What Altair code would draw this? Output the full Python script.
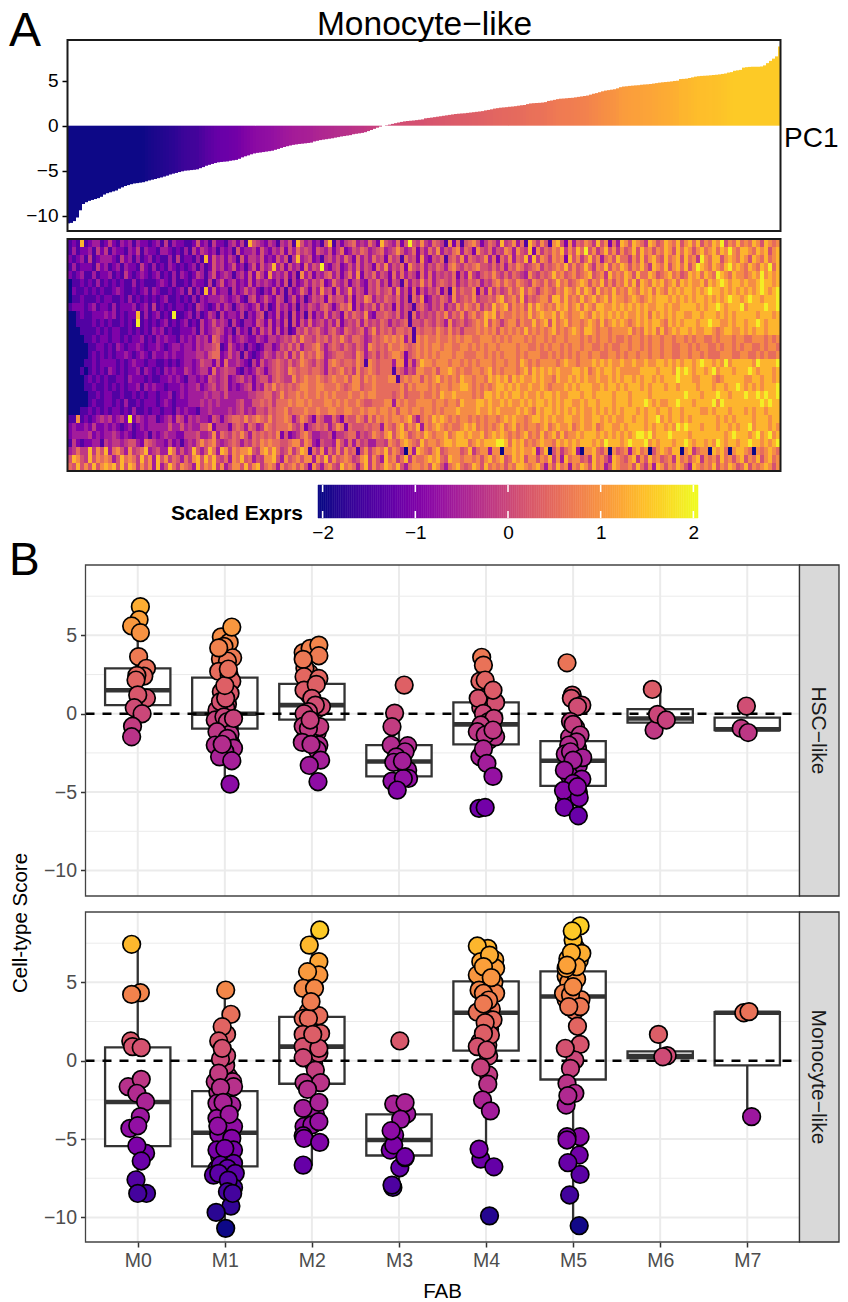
import altair as alt
import pandas as pd
import numpy as np

FONT = "Liberation Sans"
VIEW_W = 773
FABS = ["M0", "M1", "M2", "M3", "M4", "M5", "M6", "M7"]

# PC1 score of the ordered samples (one value per 3 px wide bar)
PC1 = [
-10.85,-10.8,-10.6,-10.2,-9.4,-8.7,-8.5,-8.35,-8.25,-8.15,-8.05,-7.9,-7.65,-7.5,-7.4,-7.3,-7.2,-7.0,-6.85,-6.7,
-6.6,-6.5,-6.42,-6.38,-6.33,-6.28,-6.18,-6.08,-6.0,-5.92,-5.83,-5.75,-5.65,-5.55,-5.42,-5.33,-5.25,-5.15,-5.07,-5.0,
-4.97,-4.93,-4.9,-4.85,-4.72,-4.6,-4.45,-4.35,-4.25,-4.15,-4.07,-4.03,-4.0,-3.97,-3.9,-3.85,-3.8,-3.68,-3.52,-3.4,
-3.3,-3.18,-3.08,-3.02,-2.98,-2.93,-2.88,-2.83,-2.78,-2.68,-2.58,-2.47,-2.37,-2.28,-2.2,-2.13,-2.08,-2.03,-2.0,-1.96,
-1.92,-1.88,-1.75,-1.68,-1.6,-1.55,-1.5,-1.45,-1.4,-1.33,-1.27,-1.2,-1.15,-1.1,-1.05,-0.95,-0.9,-0.85,-0.8,-0.72,
-0.6,-0.48,-0.35,-0.22,-0.1,0.0,0.05,0.12,0.2,0.28,0.35,0.42,0.48,0.52,0.55,0.58,0.62,0.66,0.7,
0.82,0.86,0.9,0.95,1.0,1.05,1.1,1.15,1.2,1.25,1.3,1.33,1.36,1.38,1.42,1.46,1.5,1.54,1.58,1.62,
1.7,1.75,1.82,1.9,1.95,2.0,2.03,2.06,2.1,2.13,2.17,2.22,2.27,2.3,2.4,2.47,2.5,2.52,2.54,2.57,
2.62,2.75,2.8,2.87,2.95,3.0,3.02,3.05,3.08,3.1,3.15,3.2,3.25,3.3,3.35,3.45,3.55,3.62,3.72,3.82,
3.9,3.95,4.0,4.05,4.15,4.28,4.35,4.38,4.42,4.45,4.48,4.5,4.55,4.58,4.6,4.63,4.68,4.73,4.78,4.82,
4.85,4.88,4.92,4.97,5.0,5.18,5.2,5.23,5.3,5.37,5.45,5.5,5.53,5.55,5.57,5.6,5.63,5.66,5.7,5.75,
5.8,5.9,5.95,6.1,6.15,6.2,6.45,6.5,6.53,6.55,6.55,6.55,6.58,6.7,6.95,7.2,7.45,7.7,8.8]
PC1_COLOR_STOPS = [-6.3, -5.3, -4.0, -2.7, -1.2, 0, 1.2, 2.2, 3.9, 5.1, 6.0]
PC1_COLORS = ["#0d0887", "#2d0594", "#6a00a8", "#9512a1", "#b52f8c", "#cc4778",
              "#da5a6a", "#e56b5d", "#f68f44", "#fdb32f", "#fdca26"]

# Heatmap, estimated level 0 (darkest) .. 9 (brightest) per cell
HEAT_LEVELS = [-2.0, -1.45, -1.0, -0.6, -0.2, 0.15, 0.5, 0.9, 1.35, 1.9]
HEAT = [
"1218123312 4213231322 1231413221 1252314221 3424185432 4314351853 4231581424 5634364285 4362595474 3654172615 6752465384 5736186475 1785273657 6485726387 5876487568 7685786857 6879576867 68758767",
"1312231424 1322132413 2213321213 1424323132 3152334253 2435253645 4254352462 3546534563 4575346253 6473546736 5275463547 6375482746 5768475869 5746857475 6858675768 7586875786 7868797688 76878578",
"2123141233 3214231312 3121131412 2131825342 4315244352 3253514834 5231453536 4263536452 6451645273 2546156473 6545736264 7365838476 4767285746 8573675866 4758578658 6785867497 6885787687 58768678",
"1312221423 1231322142 1312132121 2313125342 3523135253 4835253426 3549324523 5363542647 3546275463 5465367546 5675546463 6576456746 5676857568 6476857687 5768648768 5786857987 6876897876 87687968",
"2123113122 3121421232 1231213132 1243135234 3134252642 7343524173 5243563524 6372546354 2636354263 6354546253 7435657546 4654375465 6867567567 8567486768 7586687567 8675687868 7698768776 78797878",
"0112121312 1212113121 1123213112 1322141352 3423252434 3242514235 3546236435 2453254635 2541635474 6356546354 6563546757 6576547657 5686756787 5768575768 6858768786 7868787786 8789878878 77898878",
"0211212121 1232112123 1321121231 4131825233 1423534213 2524142364 2537452634 7354254645 6373526253 5462517465 5726374645 7568576467 6576876868 7586768676 8768786876 8787887878 9887878787 87898789",
"0112111212 2112131212 1212311212 1313233343 2342145235 3254135241 3545264553 6254763546 5463516472 3546537456 5745565785 6758465677 5886867686 7867868776 7876787888 7878787887 8787898878 98878889",
"1222123122 1312223123 1412121221 2143212424 3134323524 1253424143 5435642465 7253546364 5263541564 3546354757 6574658678 5767586876 7687867868 7688778787 8787877887 8778888787 8898788897 88889889",
"0012112223 2312122813 1231219112 3131243142 3324132451 3252415241 5243635426 4654732556 5463516354 5465746574 6756878576 6767686787 7868767787 6878787878 7787868787 8788778878 8878787888 88788878",
"0011112121 2112121912 1212312123 1214235343 1421332542 5242515253 6345353624 5463645465 3545615546 5465374564 5676857646 7757668678 5867867767 8768678787 6787878876 8787888788 9887787887 88987888",
"0001111212 1221121212 1323121122 2314234542 3142314253 5252412546 4564356436 5456357465 6466561656 6576575646 6676767576 7676867676 7867678768 8767767777 8676878686 7878878778 8767887787 87887888",
"0000112122 1221212231 2132322132 3243426532 4234322432 4434546475 5465646575 4665346567 6767361767 6676676767 7667776767 6777676776 7677677767 6767767667 6776767767 7677676776 6767776776 67776767",
"0000011221 2132122321 2232123323 3243445612 5323132124 4235464635 5675356546 5465376565 7667656767 6776776677 6767677677 7767766767 6776767767 7667676677 6776767767 7667767677 6676776767 76676776",
"0000012121 2122321232 1322323223 3344356623 5341421235 4354636475 6576345665 5476356465 6776256767 6767776776 6677676767 7767677766 7676767677 6776677676 7767767767 7667767767 6667776677 66767667",
"0000112122 2212123221 2211212123 3235442526 3343214253 4565464576 5465367656 6576176566 6377263687 7677767767 6767776776 7768767677 7767877677 7878787787 7877877887 8787887898 8787978888 87988889",
"0001012121 3212122313 2121323224 3234426345 4421323542 4565476566 5665365675 6475676566 6165354776 6757787676 6776786767 7767868787 8787778878 6787887877 7778888788 8798987887 8978887888 98788878",
"0000121212 1122132221 2112232321 3323254345 2345342455 3565447567 6676567667 5775767666 7716767757 6786767687 7677687878 6878778787 7687787878 7787787878 8787887878 8898887788 8767888887 78878878",
"0000112112 1212122313 2322122232 3342345345 2323452436 5756565677 6677666765 6775667666 6667576777 6767767788 7676767887 8787787787 6777878788 8778788787 8887878887 8878888788 8788788987 87878889",
"0000011212 2112112121 2212231232 3333434435 3333344556 6457566767 6676767666 7667677666 6567566676 6768778777 7676887878 7887877878 8787788878 8788887888 7888878888 8888988878 8898878889 88989889",
"0000012112 2121311212 2212321222 3334343433 3345335565 6466676776 7666776767 6676556667 7376766777 7677677687 7788787787 8778787887 8787887787 8878887888 7888987877 8898887888 8979888888 88898988",
"0001121212 1221213112 1221221323 2213343333 4345343554 6566756667 6676677667 7667677677 6757767767 7676777877 7787787877 7787876878 8787878787 7878787878 8878788788 7887888877 8788878887 87887888",
"1171212343 4234292432 3312342542 4343325424 5665756765 7566763576 4265336426 5576475767 6776785367 6878767677 6767677678 7877678878 7877887787 7887878778 8788788978 7887878888 8878787888 87888788",
"2322324223 2321231232 3333353353 4335572444 2565365347 6566675462 4565635762 6555656637 6578576837 6787676678 7867676786 7867677678 6787786787 7867887787 8888787887 8798988878 8878878788 97888787",
"2333342323 3432321223 1323433224 4453347365 4657536565 6572523467 5334452445 6635457657 8578756768 7677867887 8778678787 6767867686 7868677878 8878787878 7899897888 9888878888 8888789888 78978978",
"1421223314 3443455326 5433242313 4357567434 5653546576 7665567747 6325443753 6364533554 7657876586 7767887888 6787888998 6878676787 7687878788 8787988878 9888978788 8788987887 8798788788 98878789",
"3464484758 3675374568 3453386353 4853586387 4767785478 6864574687 1647364747 5615746768 5764073876 5785677756 8467737707 7878778368 0574678307 7865707567 3786705787 6880784677 0878607887 60767876",
"5875485767 6358676485 7385746536 4785868546 3768563547 7853756757 7375847567 6457847538 6746847667 8786587767 7675786785 6878577576 8473867756 4867538765 7847586756 7486757847 6758675785 76857867",
"6585758578 7858587475 7383586476 5385768473 5775857846 7637567575 2753675486 7636847568 7685367767 5875367865 6875867675 7688767863 7586737687 5867358766 7586473875 7687538767 6857687568 57678757",
]

# Box statistics per FAB: low whisker, q1, median, q3, high whisker
HSC_LOW = [-1.5, -4.5, -4.3, -4.8, -4.0, -6.5, -1.0, -1.2]
HSC_Q1 = [0.55, -0.95, -0.37, -4.0, -1.95, -4.6, -0.57, -1.04]
HSC_MED = [1.5, 0.0, 0.55, -3.05, -0.68, -3.0, -0.3, -1.0]
HSC_Q3 = [2.9, 2.3, 1.9, -2.0, 0.72, -1.75, 0.3, -0.25]
HSC_HIGH = [6.8, 5.4, 4.3, -0.05, 3.6, 0.6, 1.55, 0.5]
MONO_LOW = [-8.5, -10.7, -6.7, -8.2, -6.75, -10.5, 0.2, -3.6]
MONO_Q1 = [-5.45, -6.75, -1.47, -6.05, 0.64, -1.2, 0.17, -0.3]
MONO_MED = [-2.64, -4.6, 0.9, -5.06, 3.06, 4.1, 0.3, 3.06]
MONO_Q3 = [0.85, -1.94, 2.8, -3.43, 5.06, 5.7, 0.6, 3.1]
MONO_HIGH = [7.4, 4.5, 8.3, -2.7, 7.2, 8.5, 1.7, 3.1]

# Points: (score, horizontal jitter in hundredths of a category step)
HSC_M0 = [(6.83,3),(6.0,1.5),(5.6,-7),(5.17,3),(3.64,1),(2.9,10),(2.4,7),(2.45,-1),(2.15,-2),(1.0,10),(1.2,0),(0.38,-4),(0.0,5),(-0.8,-6),(-1.47,-7)]
HSC_M1 = [(1.4,-4),(0.6,3),(0.1,-6),(-0.9,5),(-1.7,-5),(-1.9,7),(3.1,-2),(4.0,3),(4.9,-4),(4.55,5),(4.3,-1),(3.57,9),(3.5,-5),(3.36,3),(2.7,-7),(2.47,5),(0.23,-9),(0.38,1),(0.77,-5),(-0.4,-11),(-0.2,-1),(-0.5,3),(-1.3,6),(-1.15,-9),(-1.57,3),(-2.0,-11),(-2.2,10),(-2.4,0),(-2.75,-6),(2.08,8),(1.3,6),(0.98,1),(-0.3,10),(-1.95,-3),(1.8,0),(2.85,4),(4.2,-7),(5.53,8),(-3.0,8),(-4.49,6)]
HSC_M2 = [(1.2,-3),(0.3,6),(-0.2,-7),(-1.2,6),(-1.5,-7),(2.6,-3),(3.9,-10),(4.17,-2),(4.38,8),(3.7,8),(2.9,-8),(3.47,-10),(2.36,-9),(2.25,8),(1.5,-9),(1.87,5),(0.98,0),(0.45,11),(0.55,4),(0.13,-4),(0.0,-9),(-0.83,9),(-0.8,-10),(-0.94,-4),(-0.4,-2),(-2.0,8),(-1.83,-11),(-2.3,6),(-1.96,-1),(-2.96,10),(-3.3,-3),(-4.34,7)]
HSC_M3 = [(1.83,6),(0.04,-5),(-0.83,-8),(-2.04,10),(-2.0,-9),(-2.43,7),(-2.75,-3),(-3.1,-6),(-3.6,10),(-4.13,11),(-4.3,-8),(-4.13,5),(-3.02,4),(-4.87,-2)]
HSC_M4 = [(1.2,2),(-0.1,6),(-0.9,-2),(-1.7,3),(0.4,-6),(3.6,-5),(3.1,-3),(2.08,-7),(2.15,-1),(0.98,-9),(0.72,11),(1.5,8),(0.02,-3),(-0.5,3),(-0.3,9),(-0.72,-6),(-1.15,-10),(-1.47,11),(-1.36,-1),(-1.04,8),(-2.74,-7),(-2.25,-3),(-3.17,1),(-4.0,8),(-6.04,-8),(-5.98,-1)]
HSC_M5 = [(-0.9,3),(-1.5,-4),(-2.2,5),(-3.3,6),(-3.9,-5),(-5.0,6),(-5.3,-8),(3.25,-7),(1.19,-1),(0.98,-2),(0.55,10),(0.45,5),(-0.5,-3),(-0.68,0),(-1.36,8),(-1.8,4),(-2.0,-5),(-2.57,-9),(-2.43,-3),(-2.8,11),(-2.96,0),(-3.6,-10),(-4.17,10),(-4.45,0),(-4.9,-11),(-5.36,7),(-4.66,5),(-5.98,-10),(-6.51,6)]
HSC_M6 = [(1.55,-9),(-1.04,-7),(-0.04,-3),(-0.4,7)]
HSC_M7 = [(0.49,-1),(-0.94,-7),(-1.2,1)]
MONO_M0 = [(7.43,-7),(4.34,3),(4.23,-7),(1.26,-8),(0.9,-6),(0.83,4),(-1.66,-11),(-1.19,4),(-2.08,-1),(-2.62,9),(-3.57,3),(-4.32,-9),(-4.15,0),(-5.9,9),(-5.43,-1),(-6.4,4),(-7.6,-2),(-8.47,10),(-8.47,0)]
MONO_M1 = [(-3.2,3),(-3.9,-4),(-4.6,6),(-5.0,-2),(-5.3,4),(-6.1,-6),(-6.2,7),(-6.9,-9),(-7.7,7),(-3.0,-6),(-2.0,-8),(-1.0,4),(-0.3,1),(-4.7,-7),(4.51,1),(2.96,7),(1.68,2),(2.17,-3),(1.26,-7),(0.32,2),(0.1,-5),(0.79,-3),(-1.34,9),(-1.34,-11),(-1.66,10),(-0.8,-7),(-1.72,-5),(-2.72,-9),(-2.83,8),(-3.68,-9),(-4.2,10),(-2.66,-2),(-3.43,5),(-4.17,-8),(-4.96,8),(-5.7,-9),(-5.7,10),(-6.55,10),(-5.6,0),(-6.66,-5),(-6.87,3),(-7.3,-13),(-7.19,12),(-7.19,-7),(-8.1,10),(-7.62,4),(-8.36,3),(-9.28,7),(-8.47,9),(-9.68,-10),(-10.7,1)]
MONO_M2 = [(2.2,-3),(1.2,5),(0.6,-5),(-0.2,2),(3.0,2),(-3.4,4),(8.34,9),(7.38,-3),(6.32,8),(5.47,8),(5.68,-5),(4.62,-10),(4.62,3),(3.13,-4),(2.87,8),(2.7,-10),(2.7,-4),(3.77,-1),(1.74,10),(1.68,-10),(0.9,-10),(0.47,8),(0.79,8),(1.68,1),(0.19,-10),(-0.6,4),(-1.4,-9),(-1.4,10),(-1.83,-5),(-3.04,-10),(-2.66,8),(-4.2,-9),(-4.1,0),(-3.89,8),(-4.79,-10),(-4.96,-9),(-5.21,9),(-6.66,-10)]
MONO_M3 = [(1.26,1),(-2.77,-6),(-3.4,9),(-2.68,7),(-3.74,2),(-4.74,-5),(-5.7,-10),(-5.38,-6),(-4.47,-9),(-6.83,1),(-6.19,7),(-6.13,7),(-8.09,-7),(-7.94,-8)]
MONO_M4 = [(5.0,9),(4.8,-6),(5.6,-5),(3.3,6),(2.9,-3),(2.0,4),(1.2,-7),(1.0,2),(0.3,3),(6.0,8),(7.17,2),(6.43,10),(7.32,-10),(6.32,-6),(5.9,11),(6.74,4),(5.47,-10),(6.0,-3),(4.3,11),(4.5,-8),(5.3,6),(4.3,-3),(3.87,3),(2.6,8),(3.1,-10),(3.62,-3),(1.64,5),(2.43,-1),(1.74,-3),(0.9,-10),(0.68,1),(-0.91,3),(-0.43,-6),(-1.5,2),(-2.5,-4),(-3.2,5),(-6.28,-6),(-5.64,-8),(-6.77,9),(-9.9,4)]
MONO_M5 = [(6.4,7),(6.5,-6),(5.4,-8),(5.0,-5),(5.2,4),(3.9,-8),(3.9,9),(3.2,2),(7.2,3),(8.6,8),(7.7,0),(8.28,-1),(6.85,10),(6.0,4),(6.9,-2),(5.9,-8),(6.1,-7),(4.3,-11),(4.2,-3),(4.72,0),(3.45,8),(3.45,-5),(2.2,5),(1.04,8),(0.04,2),(0.79,-9),(-0.49,-3),(-1.45,-7),(-2.08,2),(-2.83,-8),(-2.23,-6),(-4.85,8),(-4.85,-7),(-5.06,-7),(-6.02,7),(-7.26,8),(-6.51,-6),(-8.57,-4),(-10.53,7)]
MONO_M6 = [(1.68,-2),(0.32,8),(0.25,3)]
MONO_M7 = [(3.06,-4),(3.13,2),(-3.57,5)]

GRID_MAJOR = [-10, -5, 0, 5]
GRID_MINOR = [-7.5, -2.5, 2.5, 7.5]
LEGEND_TICKS = [-2, -1, 0, 1, 2]
LEGEND_LOW, LEGEND_HIGH = -2.05, 2.05

one = pd.DataFrame({"a": [0]})


def label(text, x, y, size, angle=0, align="left", weight="normal", color="black"):
    return alt.Chart(pd.DataFrame({"t": [text]})).mark_text(
        font=FONT, fontSize=size, angle=angle, align=align, baseline="alphabetic",
        fontWeight=weight, color=color
    ).encode(x=alt.value(x), y=alt.value(y), text="t:N")


def frame(x0, x1, h, color, width):
    return alt.Chart(one).mark_rect(fill=None, stroke=color, strokeWidth=width).encode(
        x=alt.value(x0), x2=alt.value(x1), y=alt.value(0), y2=alt.value(h))


def spacer(h):
    return alt.Chart(one).mark_rect(opacity=0).encode(
        x=alt.value(0), x2=alt.value(1), y=alt.value(0), y2=alt.value(1)
    ).properties(width=VIEW_W, height=h)


# ---------- PC1 bars
BAR_H = 191
bars = pd.DataFrame({"k": range(len(PC1)), "v": PC1})
bars["k1"] = bars["k"] + 1
bars["base"] = 0.0
bx = alt.Scale(domain=[0, len(PC1)], range=[0, 714], nice=False, zero=False)
by = alt.Scale(domain=[-11.7, 9.52], nice=False, zero=False)
pc1_layer = alt.Chart(bars).mark_rect().encode(
    x=alt.X("k:Q", scale=bx, axis=None),
    x2="k1:Q",
    y=alt.Y("v:Q", scale=by, title=None, axis=alt.Axis(
        values=GRID_MAJOR, grid=False, domain=False, tickColor="black", tickWidth=1.5, tickSize=5,
        labelFont=FONT, labelFontSize=19, labelColor="black", labelPadding=4)),
    y2="base:Q",
    color=alt.Color("v:Q", scale=alt.Scale(domain=PC1_COLOR_STOPS, range=PC1_COLORS, clamp=True), legend=None),
)
top = alt.layer(
    pc1_layer,
    frame(0.5, 713.5, BAR_H, "#1a1a1a", 2),
    label("Monocyte\u2212like", 357.5, -5, 33.5, align="center"),
    label("PC1", 717, 107, 28),
    label("A", -58, 6, 48),
).properties(width=VIEW_W, height=BAR_H)

# ---------- heatmap
HEAT_H = 232
HEAT_COLS = 178
heat_rows = []
for r, row in enumerate(HEAT):
    cells = row.replace(" ", "")
    cells = cells.ljust(HEAT_COLS, cells[-1])[:HEAT_COLS]
    for c, ch in enumerate(cells):
        heat_rows.append({"c0": c, "c1": c + 1, "r0": r, "r1": r + 1, "v": HEAT_LEVELS[int(ch)]})
heat_df = pd.DataFrame(heat_rows)
heat_layer = alt.Chart(heat_df).mark_rect().encode(
    x=alt.X("c0:Q", scale=alt.Scale(domain=[0, HEAT_COLS], range=[1, 713], nice=False, zero=False), axis=None),
    x2="c1:Q",
    y=alt.Y("r0:Q", scale=alt.Scale(domain=[0, len(HEAT)], range=[0, HEAT_H], nice=False, zero=False), axis=None),
    y2="r1:Q",
    color=alt.Color("v:Q", scale=alt.Scale(scheme="plasma", domain=[-2, 2], clamp=True), legend=None),
)
heat = alt.layer(heat_layer, frame(0.5, 713.5, HEAT_H, "#1a1a1a", 2)).properties(width=VIEW_W, height=HEAT_H)

# ---------- colour bar
LEG_H = 33
steps = np.arange(LEGEND_LOW, LEGEND_HIGH, 0.02)
leg_df = pd.DataFrame({"v": steps, "v1": steps + 0.02})
unit = 380 / 4.1
lx = alt.Scale(domain=[LEGEND_LOW - 251 / unit, LEGEND_LOW + (VIEW_W - 251) / unit],
               range=[0, VIEW_W], nice=False, zero=False)
leg_color = alt.Scale(scheme="plasma", domain=[-2, 2], clamp=True)
leg_ramp = alt.Chart(leg_df).mark_rect(strokeWidth=0.5).encode(
    x=alt.X("v:Q", scale=lx, title=None, axis=alt.Axis(
        values=LEGEND_TICKS, format="d", grid=False, domain=False, ticks=False, labelFont=FONT, labelFontSize=19,
        labelColor="black", labelPadding=5)),
    x2="v1:Q",
    y=alt.value(0), y2=alt.value(LEG_H),
    color=alt.Color("v:Q", scale=leg_color, legend=None),
    stroke=alt.Stroke("v:Q", scale=leg_color, legend=None),
)
tick_df = pd.DataFrame({"v": LEGEND_TICKS})
leg_ticks_top = alt.Chart(tick_df).mark_rule(color="white", strokeWidth=1.5).encode(
    x=alt.X("v:Q", scale=lx, title=None), y=alt.value(0), y2=alt.value(7))
leg_ticks_bot = alt.Chart(tick_df).mark_rule(color="white", strokeWidth=1.5).encode(
    x=alt.X("v:Q", scale=lx, title=None), y=alt.value(LEG_H - 7), y2=alt.value(LEG_H))
legend = alt.layer(
    leg_ramp, leg_ticks_top, leg_ticks_bot,
    label("Scaled Exprs", 236, 35, 21, align="right", weight="bold"),
).properties(width=VIEW_W, height=LEG_H)


# ---------- lower panels
P_X0, P_X1 = 18.5, 732.5
x_scale = alt.Scale(domain=[-0.6, 7.6], range=[P_X0, P_X1], nice=False, zero=False)


def panel(name, points, low, q1, med, q3, high, h, ydom, show_x):
    ys = alt.Scale(domain=ydom, nice=False, zero=False)
    Y = lambda f: alt.Y(f, scale=ys, title=None)
    if show_x:
        X = lambda f: alt.X(f, scale=x_scale, title=None)
    else:
        X = lambda f: alt.X(f, scale=x_scale, axis=None)
    cats = list(range(len(FABS)))
    stats = pd.DataFrame({"c": cats, "low": low, "q1": q1, "med": med, "q3": q3, "high": high})
    stats["left"] = stats["c"] - 0.375
    stats["right"] = stats["c"] + 0.375
    pts = []
    for c, group in enumerate(points):
        for y, j in group:
            pts.append({"px": c + j / 100, "y": y})
    pts = pd.DataFrame(pts)

    xaxis = alt.Axis(values=cats, labelExpr="'M' + datum.value", grid=False, domain=False,
                     tickColor="#333333", tickWidth=1.5, tickSize=5, labelFont=FONT, labelFontSize=19.5,
                     labelColor="#4d4d4d", labelPadding=4) if show_x else None
    minor = alt.Chart(pd.DataFrame({"y": GRID_MINOR})).mark_rule(color="#ebebeb", strokeWidth=1).encode(
        x=alt.value(P_X0), x2=alt.value(P_X1),
        y=alt.Y("y:Q", scale=ys, title=None, axis=alt.Axis(
            values=GRID_MAJOR, grid=False, domain=False, offset=-P_X0, tickColor="#333333", tickWidth=1.5,
            tickSize=5, labelFont=FONT, labelFontSize=19.5, labelColor="#4d4d4d", labelPadding=4)))
    major = alt.Chart(pd.DataFrame({"y": GRID_MAJOR})).mark_rule(color="#ebebeb", strokeWidth=2).encode(
        x=alt.value(P_X0), x2=alt.value(P_X1), y=Y("y:Q"))
    vert = alt.Chart(pd.DataFrame({"c": cats})).mark_rule(color="#ebebeb", strokeWidth=2).encode(
        x=alt.X("c:Q", scale=x_scale, title=None, axis=xaxis), y=alt.value(0), y2=alt.value(h))
    whisk = alt.Chart(stats).mark_rule(color="#333333", strokeWidth=2.3).encode(
        x=X("c:Q"), y=Y("low:Q"), y2="high:Q")
    box = alt.Chart(stats).mark_rect(fill="white", stroke="#333333", strokeWidth=2.3).encode(
        x=X("left:Q"), x2="right:Q", y=Y("q1:Q"), y2="q3:Q")
    median = alt.Chart(stats).mark_rule(color="#333333", strokeWidth=4.6).encode(
        x=X("left:Q"), x2="right:Q", y=Y("med:Q"))
    zero = alt.Chart(pd.DataFrame({"y": [0]})).mark_rule(
        color="black", strokeWidth=2.4, strokeDash=[9, 8]).encode(
        x=alt.value(P_X0), x2=alt.value(P_X1), y=Y("y:Q"))
    dots = alt.Chart(pts).mark_circle(size=310, stroke="black", strokeWidth=1.7, opacity=1).encode(
        x=X("px:Q"), y=Y("y:Q"),
        color=alt.Color("y:Q", scale=alt.Scale(scheme="plasma", domain=[-10.7, 10.7], clamp=True), legend=None),
    )
    strip = alt.Chart(one).mark_rect(fill="#d9d9d9", stroke="#333333", strokeWidth=1.3).encode(
        x=alt.value(P_X1), x2=alt.value(VIEW_W - 1), y=alt.value(0), y2=alt.value(h))
    strip_text = label(name, 745, h / 2, 21, angle=90, align="center", color="#1a1a1a")
    return [minor, major, vert, whisk, box, median, zero, dots,
            frame(P_X0, P_X1, h, "#444444", 1.3), strip, strip_text]


P1_H, P2_H = 331, 330
hsc_layers = panel("HSC\u2212like", [HSC_M0, HSC_M1, HSC_M2, HSC_M3, HSC_M4, HSC_M5, HSC_M6, HSC_M7],
                   HSC_LOW, HSC_Q1, HSC_MED, HSC_Q3, HSC_HIGH, P1_H, [-11.63, 9.49], False)
hsc = alt.layer(
    *hsc_layers,
    label("B", -58, 10, 46),
    label("Cell-type Score", -40, 358, 20.5, angle=270, align="center"),
).properties(width=VIEW_W, height=P1_H)

mono_layers = panel("Monocyte\u2212like", [MONO_M0, MONO_M1, MONO_M2, MONO_M3, MONO_M4, MONO_M5, MONO_M6, MONO_M7],
                    MONO_LOW, MONO_Q1, MONO_MED, MONO_Q3, MONO_HIGH, P2_H, [-11.57, 9.49], True)
mono = alt.layer(
    *mono_layers,
    label("FAB", 375.5, 386, 20.5, align="center"),
).properties(width=VIEW_W, height=P2_H)

chart = alt.vconcat(
    top, spacer(8), heat, spacer(14), legend, spacer(47), hsc, spacer(16), mono,
    spacing=0, bounds="flush"
).resolve_scale(color="independent", stroke="independent").properties(
    padding={"left": 1, "top": 0, "right": 0, "bottom": 0}
).configure_view(strokeWidth=0)

chart.save("out.html", embed_options={"renderer": "svg", "actions": False})
